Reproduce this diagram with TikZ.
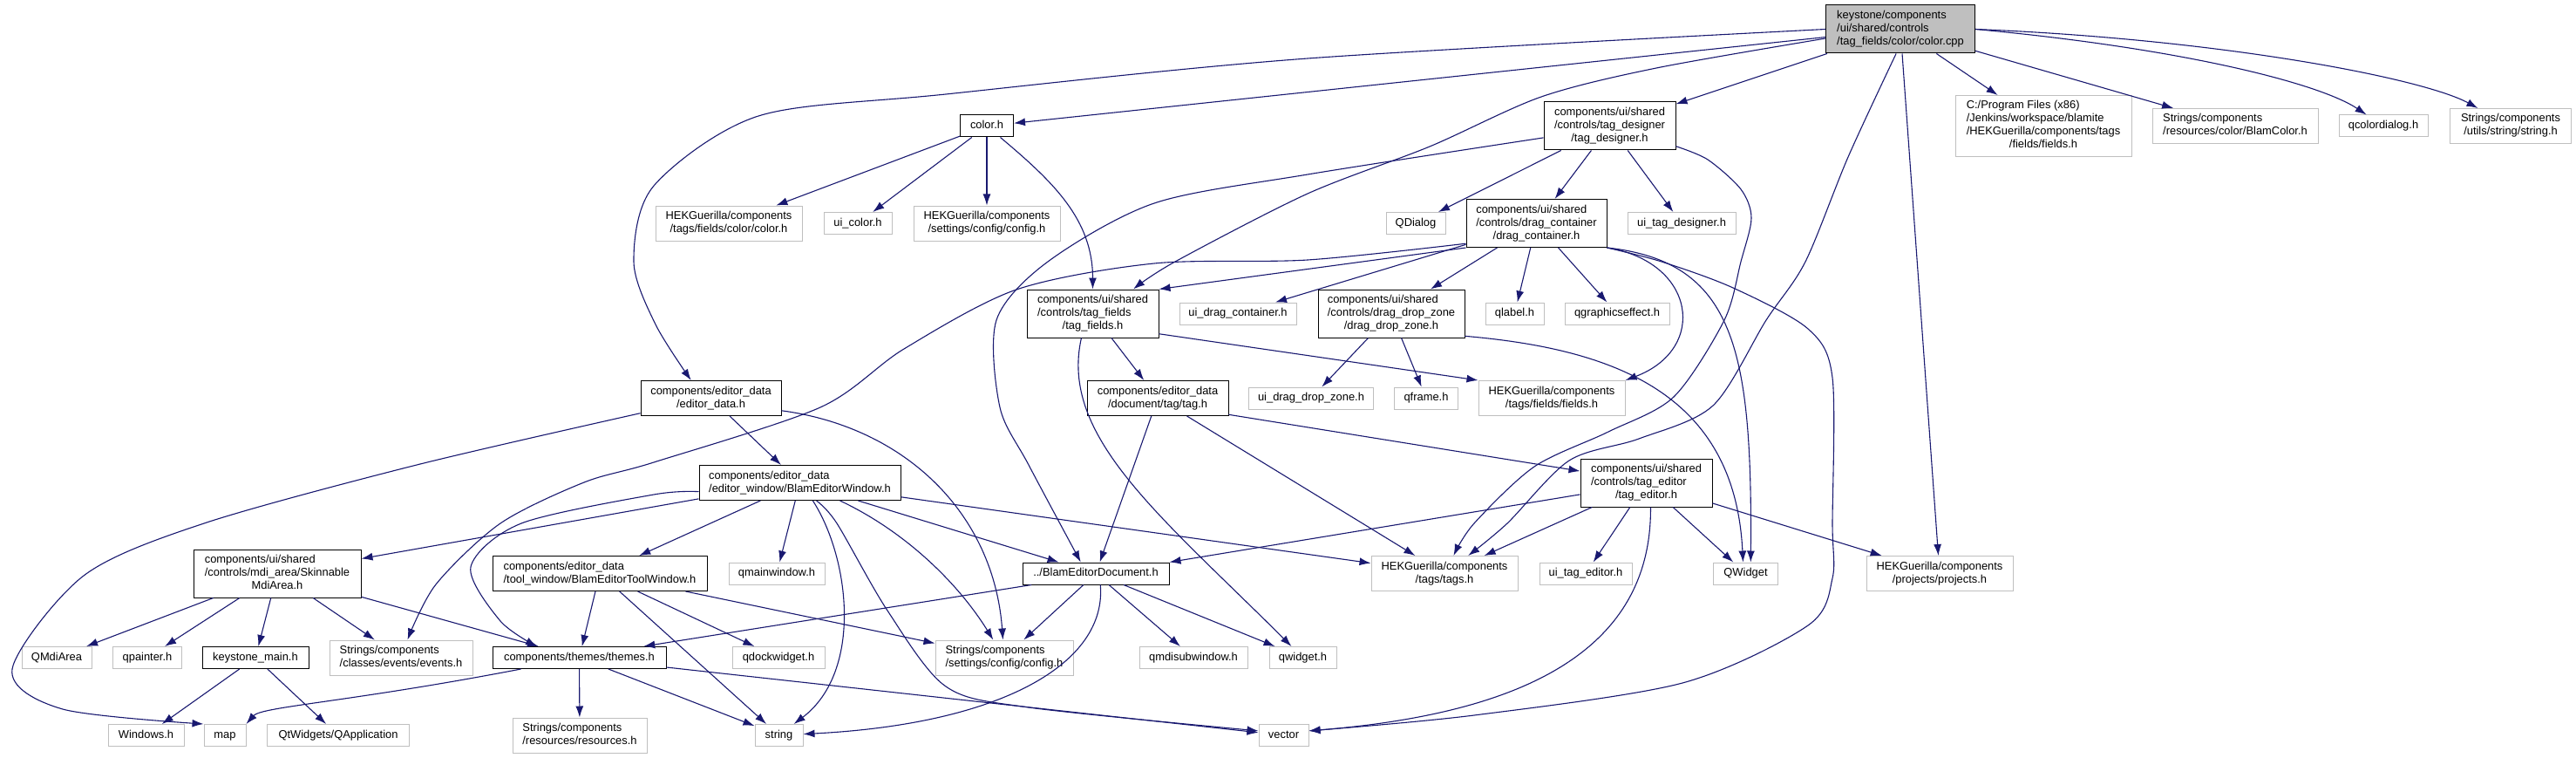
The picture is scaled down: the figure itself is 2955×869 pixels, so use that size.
\documentclass[tikz,border=0pt]{standalone}
\usepackage{fontspec}
\setmainfont{Liberation Sans}
\usetikzlibrary{arrows.meta}
\definecolor{edgeblue}{HTML}{191970}
\definecolor{boxgray}{HTML}{BFBFBF}
\newcommand{\flab}[2]{\begin{tabular}{@{}l@{}}#1\\\multicolumn{1}{@{}c@{}}{#2}\end{tabular}}

\begin{document}
\begin{tikzpicture}
    \tikzset{x=1pt,y=-1pt,every path/.style={>={Latex[length=13pt,width=9pt]}},
      filebox/.style={rectangle,draw,fill=white,line width=1pt,inner xsep=10pt,inner ysep=5pt,font=\fontsize{12.9}{15}\selectfont},
      docbox/.style={filebox,draw=black},
      extbox/.style={filebox,draw=boxgray},
      rootbox/.style={docbox,fill=boxgray},
      oneline/.style={text height=10.5pt,text depth=4.5pt},
      dep/.style={->,draw=edgeblue,line width=1.1pt}}
    \useasboundingbox (0,0) rectangle (2955,869);

    \node[rootbox,minimum width=171] (root) at (2180,33.5) {\flab{keystone/components\\/ui/shared/controls}{/tag\_fields/color/color.cpp}};

    \node[docbox,oneline,minimum width=61] (colorh) at (1132,144.5) {color.h};
    \node[docbox,minimum width=151] (tagdesigner) at (1846.5,144.5) {\flab{components/ui/shared\\/controls/tag\_designer}{/tag\_designer.h}};
    \node[extbox,minimum width=202] (cfields) at (2344,144.5) {\flab{C:/Program Files (x86)\\/Jenkins/workspace/blamite\\/HEKGuerilla/components/tags}{/fields/fields.h}};
    \node[extbox,minimum width=190] (blamcolor) at (2564,144.5) {\flab{Strings/components}{/resources/color/BlamColor.h}};
    \node[extbox,oneline,minimum width=102] (qcolordialog) at (2734,144.5) {qcolordialog.h};
    \node[extbox,minimum width=139] (stringh) at (2880,144.5) {\flab{Strings/components}{/utils/string/string.h}};

    \node[extbox,minimum width=168] (hekcolor) at (836,256) {\flab{HEKGuerilla/components}{/tags/fields/color/color.h}};
    \node[extbox,oneline,minimum width=78] (uicolor) at (984,256) {ui\_color.h};
    \node[extbox,minimum width=168] (hekconfig) at (1132,256) {\flab{HEKGuerilla/components}{/settings/config/config.h}};
    \node[extbox,oneline,minimum width=68] (qdialog) at (1624,256) {QDialog};
    \node[docbox,minimum width=161] (dragcontainer) at (1762.5,256) {\flab{components/ui/shared\\/controls/drag\_container}{/drag\_container.h}};
    \node[extbox,oneline,minimum width=124] (uitagdesigner) at (1929,256) {ui\_tag\_designer.h};

    \node[docbox,minimum width=151] (tagfields) at (1253.5,359.5) {\flab{components/ui/shared\\/controls/tag\_fields}{/tag\_fields.h}};
    \node[extbox,oneline,minimum width=134] (uidragcontainer) at (1420,359.5) {ui\_drag\_container.h};
    \node[docbox,minimum width=168] (dragdropzone) at (1596,359.5) {\flab{components/ui/shared\\/controls/drag\_drop\_zone}{/drag\_drop\_zone.h}};
    \node[extbox,oneline,minimum width=67] (qlabel) at (1737.5,359.5) {qlabel.h};
    \node[extbox,oneline,minimum width=120] (qgraphicseffect) at (1855,359.5) {qgraphicseffect.h};

    \node[docbox,minimum width=161] (editordata) at (815.5,456.5) {\flab{components/editor\_data}{/editor\_data.h}};
    \node[docbox,minimum width=162] (tagh) at (1328,456.5) {\flab{components/editor\_data}{/document/tag/tag.h}};
    \node[extbox,oneline,minimum width=143] (uidragdropzone) at (1504,456.5) {ui\_drag\_drop\_zone.h};
    \node[extbox,oneline,minimum width=73] (qframe) at (1636,456.5) {qframe.h};
    \node[extbox,minimum width=168] (hekfields) at (1780,456.5) {\flab{HEKGuerilla/components}{/tags/fields/fields.h}};

    \node[docbox,minimum width=231] (editorwindow) at (917.5,553.5) {\flab{components/editor\_data}{/editor\_window/BlamEditorWindow.h}};
    \node[docbox,minimum width=151] (tageditor) at (1888.5,553.5) {\flab{components/ui/shared\\/controls/tag\_editor}{/tag\_editor.h}};

    \node[docbox,minimum width=192] (mdiarea) at (318,657.5) {\flab{components/ui/shared\\/controls/mdi\_area/Skinnable}{MdiArea.h}};
    \node[docbox,minimum width=246] (toolwindow) at (688,657.5) {\flab{components/editor\_data}{/tool\_window/BlamEditorToolWindow.h}};
    \node[extbox,oneline,minimum width=110] (qmainwindow) at (891,657.5) {qmainwindow.h};
    \node[docbox,oneline,minimum width=168] (document) at (1257,657.5) {../BlamEditorDocument.h};
    \node[extbox,minimum width=168] (tagsh) at (1657,657.5) {\flab{HEKGuerilla/components}{/tags/tags.h}};
    \node[extbox,oneline,minimum width=106] (uitageditor) at (1819,657.5) {ui\_tag\_editor.h};
    \node[extbox,oneline,minimum width=74] (qwidgetcls) at (2002.5,657.5) {QWidget};
    \node[extbox,minimum width=168] (projects) at (2225,657.5) {\flab{HEKGuerilla/components}{/projects/projects.h}};

    \node[extbox,oneline,minimum width=80] (qmdiarea) at (65,754) {QMdiArea};
    \node[extbox,oneline,minimum width=79] (qpainter) at (169,754) {qpainter.h};
    \node[docbox,oneline,minimum width=122] (keystonemain) at (293,754) {keystone\_main.h};
    \node[extbox,minimum width=164] (events) at (460,754) {\flab{Strings/components}{/classes/events/events.h}};
    \node[docbox,oneline,minimum width=199] (themes) at (664.5,754) {components/themes/themes.h};
    \node[extbox,oneline,minimum width=106] (qdockwidget) at (893,754) {qdockwidget.h};
    \node[extbox,minimum width=158] (configs) at (1152,754) {\flab{Strings/components}{/settings/config/config.h}};
    \node[extbox,oneline,minimum width=124] (qmdisub) at (1369,754) {qmdisubwindow.h};
    \node[extbox,oneline,minimum width=77] (qwidgeth) at (1494.5,754) {qwidget.h};

    \node[extbox,oneline,minimum width=87] (windows) at (167.5,843) {Windows.h};
    \node[extbox,oneline,minimum width=48] (map) at (258,843) {map};
    \node[extbox,oneline,minimum width=163] (qapp) at (388,843) {QtWidgets/QApplication};
    \node[extbox,minimum width=154] (resources) at (665,843) {\flab{Strings/components}{/resources/resources.h}};
    \node[extbox,oneline,minimum width=55] (string) at (893.5,843) {string};
    \node[extbox,oneline,minimum width=57] (vector) at (1472.5,843) {vector};

    \foreach \a/\b in {root/colorh,root/tagdesigner,root/cfields,root/blamcolor,root/projects,
      colorh/hekcolor,colorh/uicolor,colorh/hekconfig,
      tagdesigner/qdialog,tagdesigner/dragcontainer,tagdesigner/uitagdesigner,
      dragcontainer/uidragcontainer,dragcontainer/dragdropzone,dragcontainer/qlabel,dragcontainer/qgraphicseffect,
      dragcontainer.south west/tagfields.north east,
      dragdropzone/uidragdropzone,dragdropzone/qframe,
      tagfields/tagh,tagfields.-17/hekfields.north west,
      tagh/document,tagh/tagsh,tagh.-13/tageditor.170,
      tageditor/tagsh,tageditor/uitageditor,tageditor/qwidgetcls,tageditor/projects,tageditor.190/document.north east,
      editordata/editorwindow,
      editorwindow/toolwindow,editorwindow/qmainwindow,editorwindow/document,editorwindow.-8/tagsh.172,editorwindow.189/mdiarea.10,
      toolwindow/themes,toolwindow/qdockwidget,toolwindow/configs,toolwindow/string,
      mdiarea/qmdiarea,mdiarea/qpainter,mdiarea/keystonemain,mdiarea/events,mdiarea/themes,
      keystonemain/windows,keystonemain/qapp,
      themes/resources,themes/string,themes/vector,
      document/configs,document/qmdisub,document/qwidgeth,document.190/themes.10}
      {\draw[dep] (\a) -- (\b);}

    \draw[dep] plot[smooth] coordinates {(root.west) (1500,67) (1085,108) (870,133) (750,213) (727,300) (752,372) (editordata.138)};
    \draw[dep] plot[smooth] coordinates {(root.187) (1900,78) (1768,111) (1640,168) (1500,222) (1348,300) (tagfields.31)};
    \draw[dep] plot[smooth] coordinates {(root.-100) (2120,180) (2071,300) (2026,367) (1965,465) (1880,503) (1800,528) (1729,600) (tagsh.37)};
    \draw[dep] (root.east) .. controls (2500,55) and (2660,95) .. (qcolordialog);
    \draw[dep] (root.east) .. controls (2550,45) and (2780,90) .. (stringh);
    \draw[dep] (colorh) to[out=-40,in=90] (tagfields);
    \draw[dep] plot[smooth] coordinates {(tagdesigner.190) (1500,200) (1324,233) (1202,300) (1143,367) (1147,467) (1180,533) (document.143)};
    \draw[dep] plot[smooth] coordinates {(tagdesigner.-17) (1959,183) (1997,217) (2009,250) (1997,300) (1978,367) (1920,455) (1845,495) (1760,535) (1691,600) (tagsh.63)};
    \draw[dep] plot[smooth] coordinates {(dragcontainer.196) (1500,298) (1324,302) (1166,332) (1037,400) (941,467) (750,530) (670,553) (574,600) (500,670) (events.70)};
    \draw[dep] (dragcontainer.south east) .. controls (1945,300) and (1960,400) .. (hekfields.north east);
    \draw[dep] (dragcontainer.south east) .. controls (1990,300) and (2010,400) .. (qwidgetcls.66);
    \draw[dep] plot[smooth] coordinates {(dragcontainer.south east) (1906,300) (1988,330) (2074,377) (2102,433) (2102,600) (2102,663) (2074,717) (1930,783) (1691,820) (vector.10)};
    \draw[dep] (dragdropzone.-17) .. controls (1850,400) and (1990,450) .. (qwidgetcls.103);
    \draw[dep] (tagfields.-115) .. controls (1215,500) and (1330,590) .. (qwidgeth);
    \draw[dep] (tageditor.-80) .. controls (1895,760) and (1720,820) .. (vector.10);
    \draw[dep] plot[smooth] coordinates {(editordata.192) (478,533) (234,600) (96,660) (14,767) (72,813) (map.north west)};
    \draw[dep] (editordata.-10) .. controls (1040,490) and (1140,590) .. (configs);
    \draw[dep] (editorwindow.-54) .. controls (975,640) and (990,770) .. (string);
    \draw[dep] plot[smooth] coordinates {(editorwindow.-47) (960,600) (1018,700) (1085,787) (1180,811) (vector.170)};
    \draw[dep] (editorwindow.-24) .. controls (1040,610) and (1100,670) .. (configs);
    \draw[dep] plot[smooth] coordinates {(editorwindow.185) (750,567) (598,600) (540,650) (574,712) (themes.165)};
    \draw[dep] (document.-68) .. controls (1270,760) and (1150,830) .. (string);
    \draw[dep] (themes.191) .. controls (400,805) and (300,810) .. (map.north east);
\end{tikzpicture}
\end{document}
